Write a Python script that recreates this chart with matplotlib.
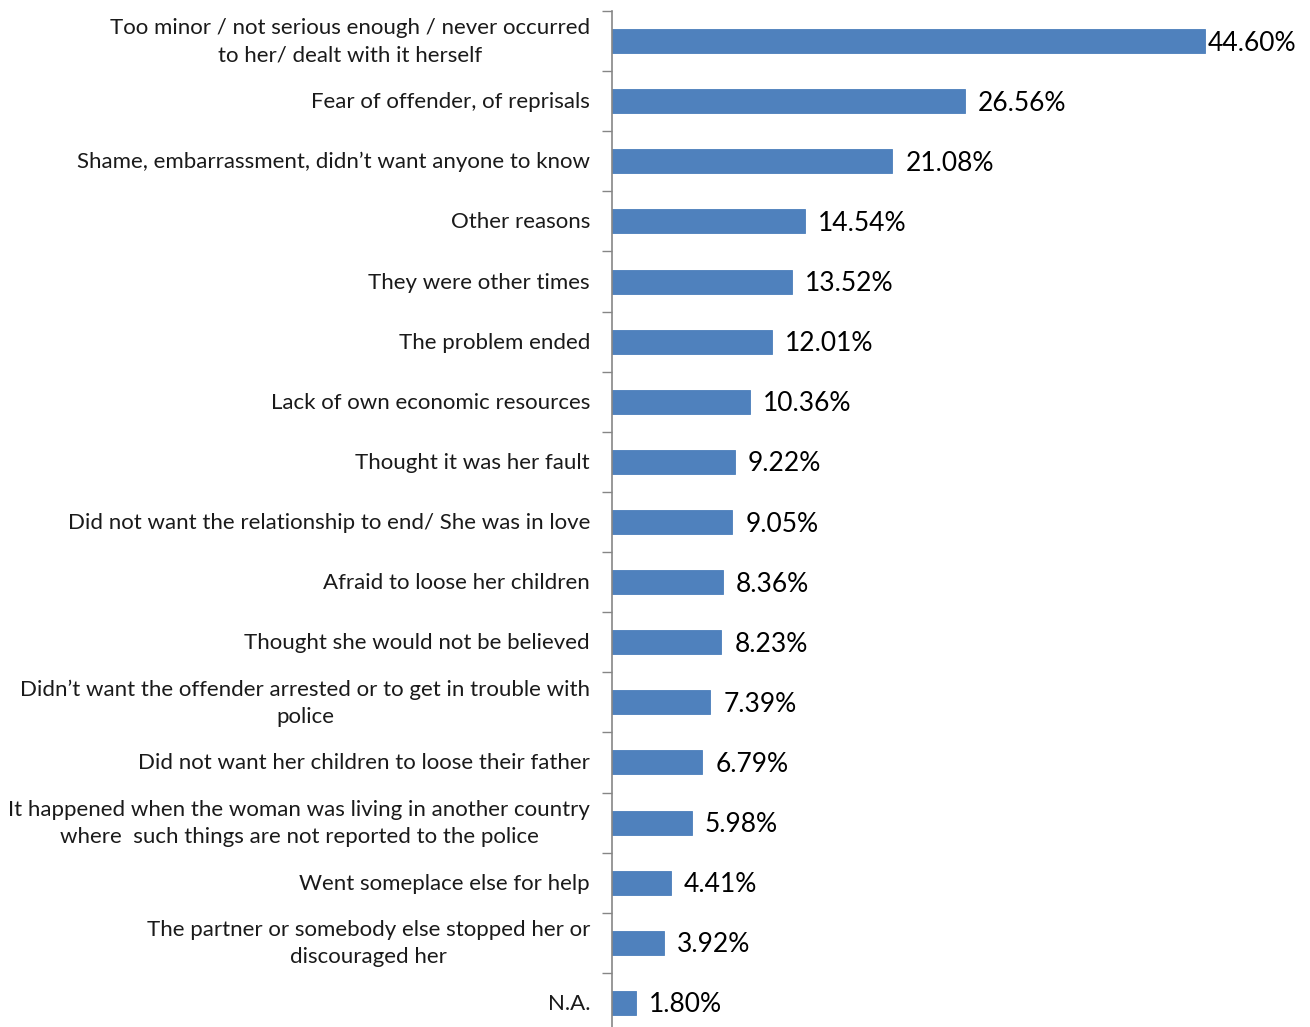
import matplotlib.pyplot as plt
import numpy as np

# reasons for not reporting, top to bottom
reasons = [
    "Too minor / not serious enough / never occurred\nto her/ dealt with it herself",
    "Fear of offender, of reprisals",
    "Shame, embarrassment, didn\u2019t want anyone to know",
    "Other reasons",
    "They were other times",
    "The problem ended",
    "Lack of own economic resources",
    "Thought it was her fault",
    "Did not want the relationship to end/ She was in love",
    "Afraid to loose her children",
    "Thought she would not be believed",
    "Didn\u2019t want the offender arrested or to get in trouble with\npolice",
    "Did not want her children to loose their father",
    "It happened when the woman was living in another country\nwhere  such things are not reported to the police",
    "Went someplace else for help",
    "The partner or somebody else stopped her or\ndiscouraged her",
    "N.A.",
]
shares = [44.60, 26.56, 21.08, 14.54, 13.52, 12.01, 10.36, 9.22, 9.05,
          8.36, 8.23, 7.39, 6.79, 5.98, 4.41, 3.92, 1.80]

plt.rcParams['font.family'] = ['Lato', 'DejaVu Sans']

W, H = 1310, 1027
fig = plt.figure(figsize=(W / 100, H / 100), dpi=100)
# axes placed so the axis line sits at x=612 px, rows 60 px apart
ax = fig.add_axes([612 / W, -6 / H, 691.6 / W, 1022 / H])

n = len(reasons)
y = np.arange(n)
ax.barh(y, shares, height=0.4, color='#4F81BD', edgecolor='#4A7EBB', linewidth=0.6)
ax.set_xlim(0, 52)
ax.set_ylim(n - 0.5, -0.5)

for i, (yi, v) in enumerate(zip(y, shares)):
    # the longest bar runs near the edge, so its label sits tight
    gap = 3 if i == 0 else 13
    ax.annotate(f"{v:.2f}%", xy=(v, yi), xytext=(gap, -2), textcoords='offset pixels',
                va='center', ha='left', fontsize=19, color='black')

# category labels, centred per line like the spreadsheet chart
for yi, lab in zip(y, reasons):
    ax.annotate(lab, xy=(0, yi), xycoords=('axes fraction', 'data'),
                xytext=(-22, -1), textcoords='offset pixels',
                ha='right', va='center', multialignment='center',
                fontsize=16.0, color='#1a1a1a', linespacing=1.45)

ax.set_yticks(np.arange(-0.5, n, 1))
ax.set_yticklabels([])
ax.tick_params(axis='y', length=7, width=1, color='#868686', direction='out')
ax.set_xticks([])
for s in ['top', 'right', 'bottom']:
    ax.spines[s].set_visible(False)
ax.spines['left'].set_color('#868686')
ax.spines['left'].set_linewidth(1.2)

fig.savefig('out.png', dpi=100)
